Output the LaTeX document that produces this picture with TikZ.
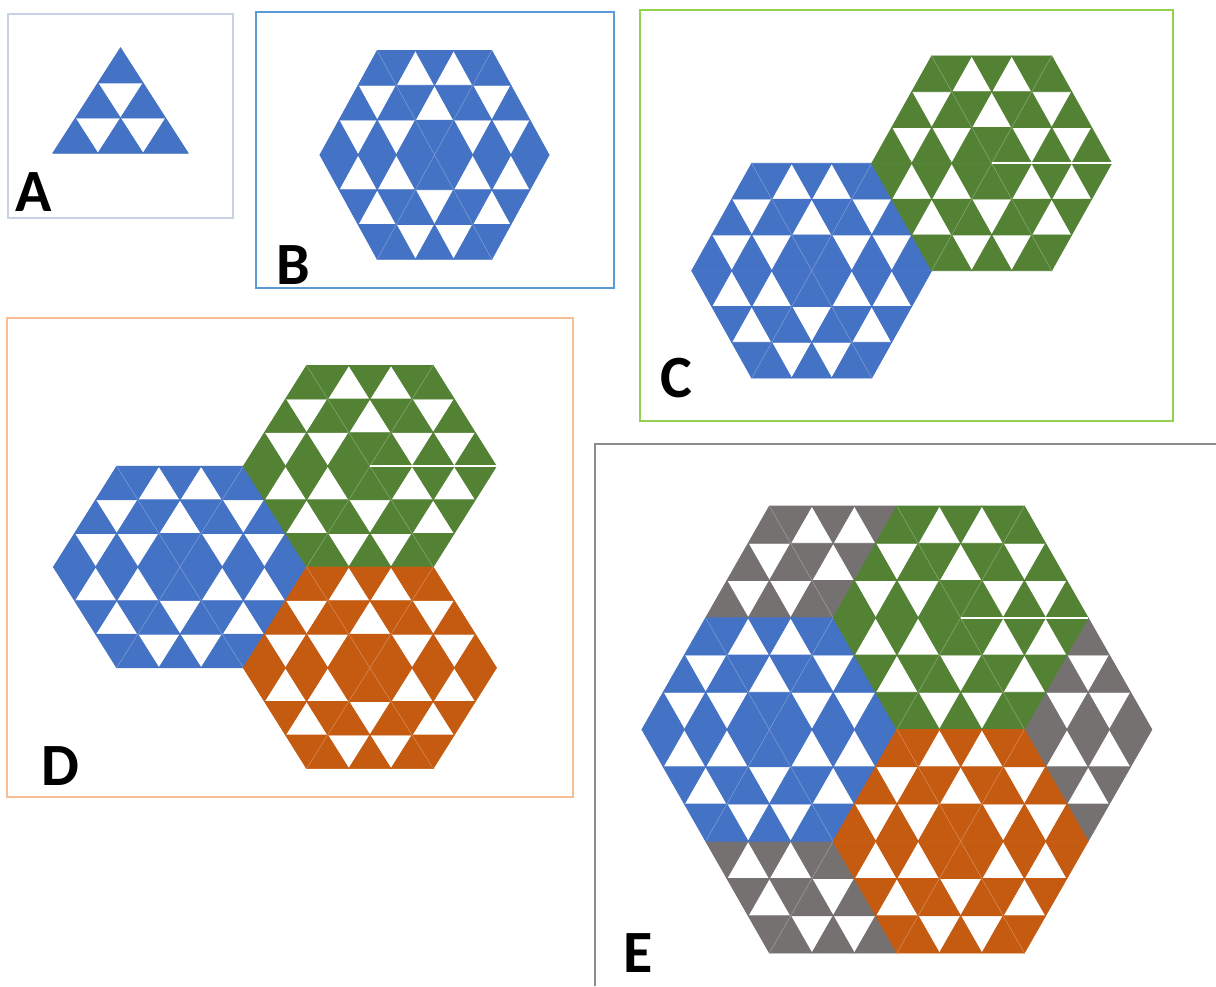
\documentclass[tikz,border=0pt]{standalone}
\usepackage{fontspec}
\setmainfont{Carlito}
\definecolor{hblue}{HTML}{4472C4}
\definecolor{hgreen}{HTML}{548235}
\definecolor{horange}{HTML}{C55A11}
\definecolor{hgrey}{HTML}{767171}
\tikzset{lab/.style={font=\fontsize{60}{60}\selectfont\bfseries,inner sep=0pt},
tri/.style={line width=.7pt,line join=round},
seam/.style={white,opacity=.28,line width=.6pt},slit/.style={white,line width=2pt},
box/.style={line width=1.6pt}}
% small triangles of one big triangle (side 3), lattice units: x = side, y = row
\newcommand{\upT}[3]{\foreach \ii/\jj in {0/0,1/0,2/0,.5/1,1.5/1,1/2}{\filldraw[tri,#1] (#2+\ii,#3+\jj)--(#2+\ii+1,#3+\jj)--(#2+\ii+.5,#3+\jj+1)--cycle;}}
\newcommand{\dnT}[3]{\foreach \ii/\jj in {0/0,1/0,2/0,.5/-1,1.5/-1,1/-2}{\filldraw[tri,#1] (#2+\ii,#3+\jj)--(#2+\ii+1,#3+\jj)--(#2+\ii+.5,#3+\jj-1)--cycle;}}
% hexagon of six big triangles around (#2,#3)
\newcommand{\hexa}[3]{\upT{#1}{#2}{#3}\dnT{#1}{#2-1.5}{#3+3}\upT{#1}{#2-3}{#3}
\dnT{#1}{#2-3}{#3}\upT{#1}{#2-1.5}{#3-3}\dnT{#1}{#2}{#3}
\draw[seam] (#2,#3)--++(1.5,3) (#2,#3)--++(-1.5,3) (#2,#3)--++(-1.5,-3) (#2,#3)--++(1.5,-3);}

\begin{document}
\begin{tikzpicture}[x=1pt,y=-1pt]
\useasboundingbox (0,0) rectangle (1216,986);
% A
\draw[box,draw={rgb,255:red,200;green,210;blue,226}] (8,14) rectangle (233,218);
\begin{scope}[shift={(52.7,153.3)},xscale=45.2,yscale=-35.2]
\upT{hblue}{0}{0}
\end{scope}
\node[lab] (la) at (34,192) {A};
% B
\draw[box,draw={rgb,255:red,91;green,155;blue,213}] (256,12) rectangle (614,288);
\begin{scope}[shift={(434.5,154.9)},xscale=38.2,yscale=-34.8]
\hexa{hblue}{0}{0}
\end{scope}
\node[lab] (lb) at (293.5,265) {B};
% C
\draw[box,draw={rgb,255:red,146;green,208;blue,80}] (640,10) rectangle (1173,421);
\begin{scope}[shift={(811.7,270.7)},xscale=40,yscale=-35.8]
\hexa{hblue}{0}{0}\hexa{hgreen}{4.5}{3}
\draw[slit] (4.5,3)--(7.5,3);
\end{scope}
\node[lab] (lc) at (676.5,378.5) {C};
% D
\draw[box,draw={rgb,255:red,245;green,190;blue,149}] (7,318) rectangle (573,797);
\begin{scope}[shift={(180,567)},xscale=42.2,yscale=-33.6]
\hexa{hblue}{0}{0}\hexa{hgreen}{4.5}{3}\hexa{horange}{4.5}{-3}
\draw[slit] (4.5,3)--(7.5,3);
\end{scope}
\node[lab] (ld) at (60.5,766.5) {D};
% E
\draw[box,draw={rgb,255:red,140;green,140;blue,140}] (595,986)--(595,444)--(1216,444);
\begin{scope}[shift={(769.4,729.5)},xscale=42.5,yscale=-37.25]
\upT{hgrey}{-1.5}{3}\dnT{hgrey}{0}{6}
\upT{hgrey}{6}{0}\dnT{hgrey}{6}{0}
\dnT{hgrey}{-1.5}{-3}\upT{hgrey}{0}{-6}
\draw[seam] (0,6)--(1.5,3) (0,-6)--(1.5,-3);
\hexa{hblue}{0}{0}\hexa{hgreen}{4.5}{3}\hexa{horange}{4.5}{-3}
\draw[slit] (4.5,3)--(7.5,3);
\end{scope}
\node[lab] (le) at (638,953) {E};
\end{tikzpicture}
\end{document}
